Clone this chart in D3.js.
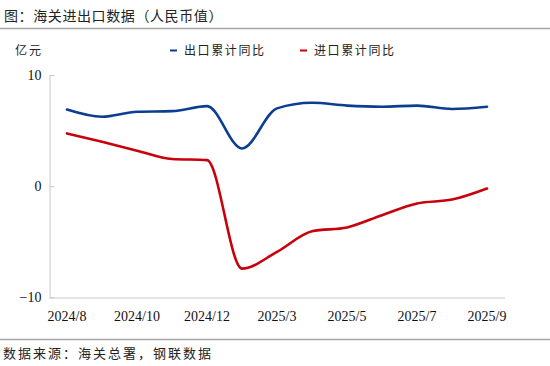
<!DOCTYPE html>
<html>
<head>
<meta charset="utf-8">
<script src="https://cdn.jsdelivr.net/npm/d3@7"></script>
<style>
  body { margin: 0; background: #fff; }
  svg { display: block; }
</style>
</head>
<body>
<script>
// months (2025/1-2 reported together as 2025/2)
const months = ["2024/8", "2024/9", "2024/10", "2024/11", "2024/12", "2025/2", "2025/3",
                "2025/4", "2025/5", "2025/6", "2025/7", "2025/8", "2025/9"];
const tickLabels = ["2024/8", "2024/10", "2024/12", "2025/3", "2025/5", "2025/7", "2025/9"];
const exportYoY = [6.9, 6.25, 6.7, 6.75, 7.2, 3.4, 7.0, 7.5, 7.25, 7.15, 7.25, 6.95, 7.15];
const importYoY = [4.75, 4.0, 3.2, 2.45, 2.35, -7.4, -5.9, -4.05, -3.7, -2.6, -1.55, -1.2, -0.2];
const yTicks = [-10, 0, 10];

const W = 550, H = 366;
const svg = d3.select("body").append("svg")
    .attr("width", W)
    .attr("height", H);

const cjk = "'Noto Sans CJK SC', sans-serif";
const serif = "'Liberation Serif', 'Times New Roman', serif";

// title + rules
svg.append("text")
    .attr("x", 4).attr("y", 20.5)
    .attr("font-family", cjk).attr("font-size", 14)
    .attr("letter-spacing", 0.6)
    .attr("fill", "#222")
    .text("图：海关进出口数据（人民币值）");

svg.append("line")
    .attr("x1", 0).attr("x2", W).attr("y1", 28.5).attr("y2", 28.5)
    .attr("stroke", "#a6a6a6").attr("stroke-width", 1.5);

svg.append("line")
    .attr("x1", 0).attr("x2", W).attr("y1", 339.5).attr("y2", 339.5)
    .attr("stroke", "#a6a6a6").attr("stroke-width", 1.5);

svg.append("text")
    .attr("x", 3).attr("y", 358)
    .attr("font-family", cjk).attr("font-size", 13)
    .attr("letter-spacing", 2)
    .attr("fill", "#222")
    .text("数据来源：海关总署，钢联数据");

// scales
const x = d3.scaleBand()
    .domain(months)
    .range([49.5, 504.5]);

const y = d3.scaleLinear()
    .domain([-10, 10])
    .range([297.5, 75]);

// y axis
const yAxis = svg.append("g")
    .attr("transform", "translate(49.5,0)")
    .call(d3.axisLeft(y).tickValues(yTicks).tickSizeInner(-5).tickSizeOuter(0).tickPadding(8));
yAxis.select(".domain").attr("stroke", "#c8c8c8");
yAxis.selectAll(".tick line").attr("stroke", "#c8c8c8");
yAxis.selectAll("text")
    .attr("font-family", serif).attr("font-size", 14).attr("fill", "#111");

// x axis
const xAxis = svg.append("g")
    .attr("transform", "translate(0,297.5)")
    .call(d3.axisBottom(x).tickValues(tickLabels).tickSize(0).tickPadding(14));
xAxis.select(".domain").attr("stroke", "#c8c8c8");
xAxis.selectAll("text")
    .attr("font-family", serif).attr("font-size", 14).attr("fill", "#111");

// unit label
svg.append("text")
    .attr("x", 15).attr("y", 55)
    .attr("font-family", cjk).attr("font-size", 12)
    .attr("letter-spacing", 2)
    .attr("fill", "#222")
    .text("亿元");

// lines
const cx = d => x(d) + x.bandwidth() / 2;
const line = d3.line()
    .x((d, i) => cx(months[i]))
    .y(d => y(d))
    .curve(d3.curveMonotoneX);

const series = [
    { name: "出口累计同比", values: exportYoY, color: "#0b3e90" },
    { name: "进口累计同比", values: importYoY, color: "#c8000b" }
];

svg.selectAll(".series")
    .data(series)
    .enter().append("path")
    .attr("class", "series")
    .attr("d", d => line(d.values))
    .attr("fill", "none")
    .attr("stroke", d => d.color)
    .attr("stroke-width", 2.6)
    .attr("stroke-linecap", "round");

// legend
const legend = svg.selectAll(".legend")
    .data(series)
    .enter().append("g")
    .attr("class", "legend")
    .attr("transform", (d, i) => `translate(${170 + i * 130},0)`);

legend.append("line")
    .attr("x1", 0).attr("x2", 7).attr("y1", 50.5).attr("y2", 50.5)
    .attr("stroke", d => d.color).attr("stroke-width", 2);

legend.append("text")
    .attr("x", 14).attr("y", 55)
    .attr("font-family", cjk).attr("font-size", 12)
    .attr("letter-spacing", 1.6)
    .attr("fill", "#222")
    .text(d => d.name);
</script>
</body>
</html>
